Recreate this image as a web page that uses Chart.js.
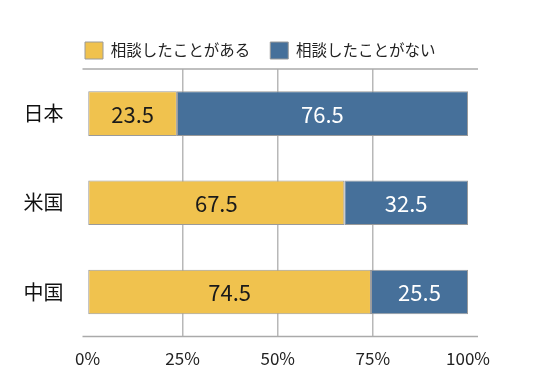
<!DOCTYPE html>
<html>
<head>
<meta charset="utf-8">
<script src="https://cdn.jsdelivr.net/npm/chart.js@4.4.1/dist/chart.umd.min.js"></script>
<style>
  html, body { margin: 0; padding: 0; background: #fff; }
  #wrap { width: 536px; height: 391px; }
</style>
</head>
<body>
<div id="wrap"><canvas id="barChart" width="536" height="391"></canvas></div>
<script>
// Data
const countries = ['日本', '米国', '中国'];
const consulted = [23.5, 67.5, 74.5];
const notConsulted = [76.5, 32.5, 25.5];
const seriesNames = ['相談したことがある', '相談したことがない'];
const xTicks = [0, 25, 50, 75, 100];

const FONT = '"Noto Sans CJK JP", "Noto Sans", sans-serif';
const YELLOW = '#F0C24E';
const BLUE = '#46709A';

// frame lines at top and bottom of plot
const frameLines = {
    id: 'frameLines',
    beforeDatasetsDraw(chart) {
        const { ctx, chartArea } = chart;
        ctx.save();
        ctx.strokeStyle = '#aaaaaa';
        ctx.lineWidth = 1.5;
        [chartArea.top, chartArea.bottom].forEach(y => {
            ctx.beginPath();
            ctx.moveTo(chartArea.left - 5, y);
            ctx.lineTo(chartArea.right + 10, y);
            ctx.stroke();
        });
        ctx.restore();
    }
};

// numbers inside the bars
const barValues = {
    id: 'barValues',
    afterDatasetsDraw(chart) {
        const { ctx } = chart;
        ctx.save();
        ctx.font = '22px ' + FONT;
        ctx.textAlign = 'center';
        ctx.textBaseline = 'middle';
        chart.data.datasets.forEach((ds, i) => {
            const meta = chart.getDatasetMeta(i);
            ctx.fillStyle = i === 0 ? '#1a1a1a' : '#ffffff';
            meta.data.forEach((bar, j) => {
                const x = (bar.x + bar.base) / 2;
                ctx.fillText(ds.data[j].toFixed(1), x, bar.y + 1);
            });
        });
        ctx.restore();
    }
};

// line the legend up with the left edge of the plot
const legendShift = {
    id: 'legendShift',
    afterLayout(chart) {
        const lg = chart.legend;
        if (lg) lg.left = chart.chartArea.left - 2.5 - lg.options.labels.padding;
    }
};

const ctx = document.getElementById('barChart').getContext('2d');

new Chart(ctx, {
    type: 'bar',
    data: {
        labels: countries,
        datasets: [
            { label: seriesNames[0], data: consulted, backgroundColor: YELLOW },
            { label: seriesNames[1], data: notConsulted, backgroundColor: BLUE }
        ]
    },
    options: {
        indexAxis: 'y',
        responsive: false,
        animation: false,
        layout: { padding: { left: 15, right: 68, top: 22, bottom: 10 } },
        datasets: {
            bar: {
                barPercentage: 0.5,
                categoryPercentage: 1,
                borderWidth: 1,
                borderColor: '#9a9a9a',
                borderSkipped: false
            }
        },
        scales: {
            x: {
                stacked: true,
                min: 0,
                max: 100,
                afterBuildTicks(scale) {
                    scale.ticks = xTicks.map(v => ({ value: v }));
                },
                border: { display: false },
                grid: {
                    drawTicks: false,
                    lineWidth: 1.5,
                    color: c => (c.tick && (c.tick.value === 0 || c.tick.value === 100)) ? 'rgba(0,0,0,0)' : '#b8b8b8'
                },
                ticks: {
                    padding: 12,
                    color: '#222',
                    font: { family: FONT, size: 17 },
                    callback: v => v + '%'
                }
            },
            y: {
                stacked: true,
                border: { display: false },
                grid: { display: false, drawTicks: false },
                afterFit(scale) { scale.width = 72.5; },
                ticks: {
                    padding: 24,
                    color: '#111',
                    font: { family: FONT, size: 20 }
                }
            }
        },
        plugins: {
            legend: {
                position: 'top',
                align: 'start',
                labels: {
                    boxWidth: 18,
                    boxHeight: 17,
                    padding: 20,
                    color: '#222',
                    font: { family: FONT, size: 15.5 },
                    generateLabels(chart) {
                        return chart.data.datasets.map((ds, i) => ({
                            text: ds.label,
                            fillStyle: ds.backgroundColor,
                            strokeStyle: '#9a9a9a',
                            lineWidth: 1,
                            fontColor: '#222',
                            datasetIndex: i
                        }));
                    }
                }
            },
            tooltip: { enabled: false }
        }
    },
    plugins: [legendShift, frameLines, barValues]
});
</script>
</body>
</html>
